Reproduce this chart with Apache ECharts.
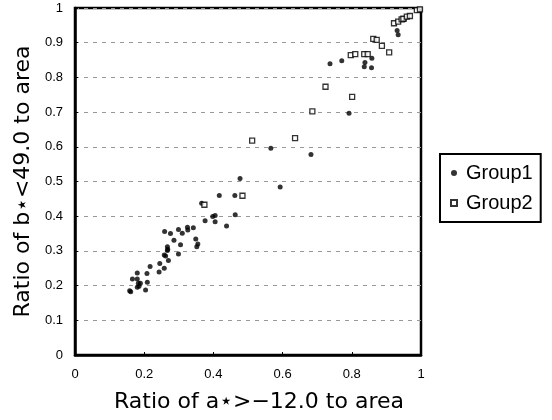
<!DOCTYPE html>
<html>
<head>
<meta charset="utf-8">
<script src="https://cdn.jsdelivr.net/npm/echarts@6/dist/echarts.min.js"></script>
<style>
  html, body { margin: 0; padding: 0; background: #fff; }
  #chart { width: 552px; height: 420px; }
</style>
</head>
<body>
<div id="chart"></div>
<script>
    // values: [ratio a*, ratio b*]
    var group1Points = [
        [0.161, 0.182], [0.158, 0.185], [0.204, 0.187], [0.180, 0.195], [0.185, 0.198],
        [0.183, 0.207], [0.189, 0.207], [0.209, 0.210], [0.166, 0.219], [0.180, 0.219],
        [0.180, 0.236], [0.208, 0.235], [0.217, 0.255], [0.243, 0.239], [0.245, 0.264],
        [0.258, 0.250], [0.270, 0.272], [0.258, 0.288], [0.262, 0.285], [0.299, 0.291],
        [0.267, 0.301], [0.267, 0.312], [0.268, 0.305], [0.305, 0.318], [0.259, 0.356],
        [0.276, 0.350], [0.286, 0.331], [0.299, 0.362], [0.310, 0.351], [0.325, 0.368],
        [0.326, 0.360], [0.342, 0.367], [0.349, 0.334], [0.355, 0.320], [0.352, 0.312],
        [0.366, 0.437], [0.376, 0.387], [0.398, 0.399], [0.405, 0.402], [0.405, 0.384],
        [0.438, 0.372], [0.463, 0.404], [0.417, 0.460], [0.462, 0.460], [0.477, 0.509],
        [0.593, 0.484], [0.566, 0.596], [0.682, 0.578], [0.792, 0.697], [0.737, 0.839],
        [0.771, 0.848], [0.838, 0.843], [0.836, 0.831], [0.857, 0.828], [0.858, 0.855],
        [0.931, 0.935], [0.934, 0.923], [0.952, 0.966]
    ];
    var group2Points = [
        [0.374, 0.433], [0.484, 0.459], [0.512, 0.618], [0.636, 0.625], [0.686, 0.702],
        [0.724, 0.773], [0.801, 0.744], [0.797, 0.864], [0.810, 0.867], [0.836, 0.867],
        [0.846, 0.867], [0.862, 0.911], [0.872, 0.908], [0.887, 0.891], [0.908, 0.872],
        [0.922, 0.956], [0.934, 0.961], [0.944, 0.967], [0.949, 0.969], [0.959, 0.975],
        [0.968, 0.977], [0.988, 0.994], [0.997, 0.996]
    ];
    var seriesNames = ['Group1', 'Group2'];
    var xTitle = 'Ratio of a\u22c6>\u221212.0 to area';
    var yTitle = 'Ratio of b\u22c6<49.0 to area';

    var chart = echarts.init(document.getElementById('chart'));
    chart.setOption({
        animation: false,
        textStyle: { fontFamily: 'Liberation Sans', color: '#000' },
        grid: {
            left: 75, right: 131, top: 8, bottom: 65,
            show: true, borderColor: '#000', borderWidth: 2.5, backgroundColor: '#fff'
        },
        legend: {
            orient: 'vertical',
            left: 440, top: 154,
            padding: [9, 8, 9, 10],
            itemGap: 10,
            itemWidth: 6, itemHeight: 6,
            borderColor: '#000', borderWidth: 2,
            textStyle: { fontSize: 20, fontFamily: 'Liberation Sans', color: '#000', padding: [0, 0, 0, 4] },
            data: seriesNames
        },
        xAxis: {
            type: 'value', min: 0, max: 1, interval: 0.2,
            name: xTitle, nameLocation: 'middle', nameGap: 36,
            nameTextStyle: { fontSize: 22, fontFamily: 'DejaVu Sans', color: '#000', padding: [0, 0, 0, 22] },
            axisLine: { show: true, lineStyle: { color: '#000', width: 2.5 } },
            axisTick: { show: true, inside: true, length: 3, lineStyle: { color: '#000' } },
            axisLabel: { fontSize: 13, color: '#000', margin: 13 },
            splitLine: { show: false }
        },
        yAxis: {
            type: 'value', min: 0, max: 1, interval: 0.1,
            name: yTitle, nameLocation: 'middle', nameGap: 40,
            nameTextStyle: { fontSize: 22, fontFamily: 'DejaVu Sans', color: '#000' },
            axisLine: { show: true, lineStyle: { color: '#000', width: 2.5 } },
            axisTick: { show: true, inside: true, length: 3, lineStyle: { color: '#000' } },
            axisLabel: { fontSize: 13, color: '#000', margin: 12 },
            splitLine: { show: true, lineStyle: { color: '#999', width: 1, type: [4, 5] } }
        },
        series: [
            {
                name: seriesNames[0], type: 'scatter', data: group1Points,
                symbol: 'circle', symbolSize: 5,
                itemStyle: { color: '#000' }
            },
            {
                name: seriesNames[1], type: 'scatter', data: group2Points,
                symbol: 'rect', symbolSize: 5,
                itemStyle: { color: '#fff', borderColor: '#000', borderWidth: 1.3 }
            }
        ]
    });
</script>
</body>
</html>
